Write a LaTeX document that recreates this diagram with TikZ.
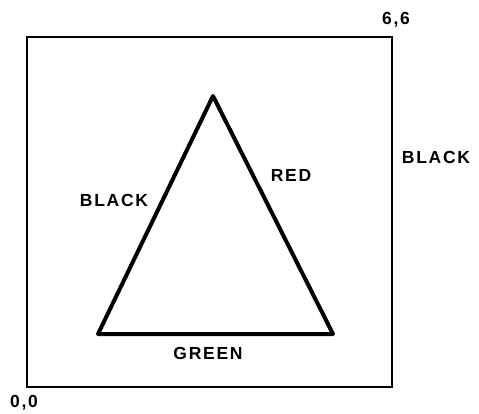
\documentclass[tikz,border=0pt]{standalone}
\usepackage{fontspec}
\setmainfont{Liberation Sans}[LetterSpace=10]
\tikzset{
  lbl/.style={font=\bfseries\fontsize{17.5}{17.5}\selectfont, inner sep=0pt, anchor=center},
  frame/.style={line width=2pt},
  tri/.style={line width=4pt, line join=round}
}
\begin{document}
\begin{tikzpicture}[x=1pt,y=-1pt]
\useasboundingbox (0,0) rectangle (479,413);
\coordinate (ll) at (27,387);
\coordinate (ur) at (392,37);
\draw[frame] (ll) rectangle (ur);
\coordinate (A) at (213,96);
\coordinate (B) at (98,334);
\coordinate (C) at (333,334);
\draw[tri] (A) -- (B) -- (C) -- cycle;
\node[lbl] (t66) at (396,20) {6,6};
\node[lbl] (t00) at (24,403) {0,0};
\node[lbl] (bR) at (436,157) {BLACK};
\node[lbl] (bL) at (114,200) {BLACK};
\node[lbl] (red) at (291,175) {RED};
\node[lbl] (grn) at (208,353) {GREEN};
\end{tikzpicture}
\end{document}
